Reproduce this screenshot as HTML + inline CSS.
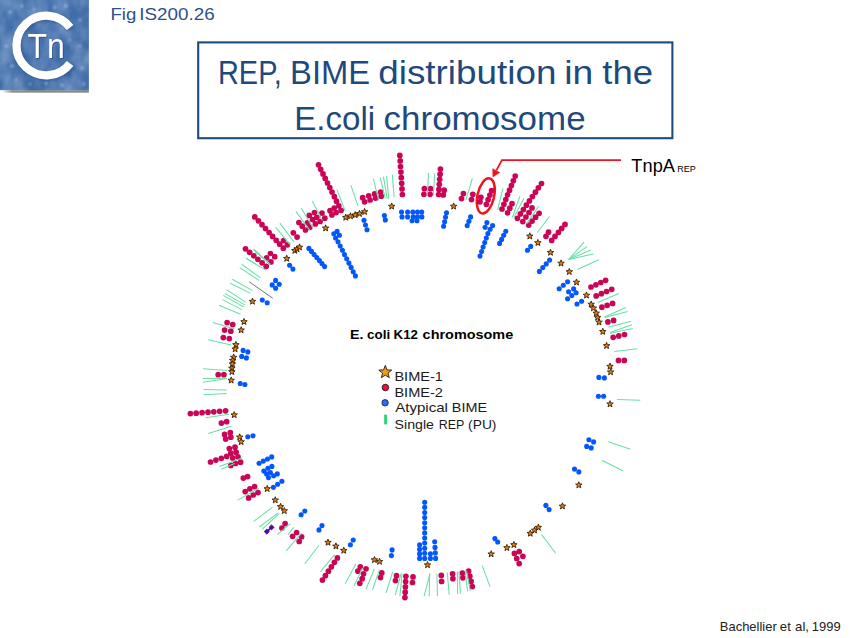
<!DOCTYPE html>
<html lang="en">
<head>
<meta charset="utf-8">
<title>Fig IS200.26 - REP, BIME distribution in the E.coli chromosome</title>
<style>
html,body{margin:0;padding:0;background:#fff;}
body{width:850px;height:638px;overflow:hidden;position:relative;}
svg{position:absolute;left:0;top:0;display:block;}
text{font-family:"Liberation Sans",sans-serif;}
</style>
</head>
<body>
<svg width="850" height="638" viewBox="0 0 850 638">
<defs>
  <linearGradient id="lg" x1="0" y1="0" x2="1" y2="1">
    <stop offset="0" stop-color="#4572ad"/>
    <stop offset="0.5" stop-color="#406ca8"/>
    <stop offset="1" stop-color="#3d69a6"/>
  </linearGradient>
  <filter id="clouds" x="0" y="0" width="100%" height="100%" color-interpolation-filters="sRGB">
    <feTurbulence type="fractalNoise" baseFrequency="0.055 0.04" numOctaves="3" seed="7" result="n"/>
    <feColorMatrix in="n" type="matrix" values="0 0 0 0 0.82  0 0 0 0 0.89  0 0 0 0 0.97  1.5 0 0 0 -0.52"/>
  </filter>
  <linearGradient id="sh" x1="0" y1="0" x2="1" y2="0"><stop offset="0" stop-color="#8c8c8c" stop-opacity="0"/><stop offset="0.12" stop-color="#8c8c8c"/><stop offset="1" stop-color="#888888"/></linearGradient>
  <filter id="blur3" x="-10%" y="-50%" width="120%" height="200%"><feGaussianBlur stdDeviation="0.35"/></filter>
  <filter id="ds" x="-20%" y="-20%" width="150%" height="150%"><feDropShadow dx="1" dy="1" stdDeviation="0.5" flood-color="#1f3f70" flood-opacity="0.55"/></filter>
  <filter id="blur1" x="-50%" y="-50%" width="200%" height="200%"><feGaussianBlur stdDeviation="1.1"/></filter>
  <filter id="blur2" x="-50%" y="-50%" width="200%" height="200%"><feGaussianBlur stdDeviation="0.8"/></filter>
</defs>
<rect x="0" y="0" width="850" height="638" fill="#ffffff"/>

<!-- logo -->
<g id="logo">
  <rect x="2" y="89" width="86.9" height="3.7" fill="url(#sh)" filter="url(#blur3)"/>
  <rect x="0" y="0" width="88.9" height="90.1" fill="url(#lg)"/>
  <rect x="0" y="0" width="88.9" height="90.1" fill="#fff" filter="url(#clouds)" opacity="0.5"/>
  <g fill="#cfe0f3" opacity="0.55" filter="url(#blur1)">
    <circle cx="10" cy="12" r="1.6"/><circle cx="22" cy="6" r="1.3"/><circle cx="34" cy="9" r="1.2"/>
    <circle cx="55" cy="7" r="1.5"/><circle cx="66" cy="6" r="1.4"/><circle cx="80" cy="20" r="1.4"/>
    <circle cx="6" cy="46" r="1.5"/><circle cx="12" cy="66" r="1.6"/><circle cx="16" cy="80" r="1.4"/>
    <circle cx="46" cy="83" r="1.5"/><circle cx="62" cy="85" r="1.3"/><circle cx="82" cy="68" r="1.5"/>
    <circle cx="80" cy="46" r="1.3"/><circle cx="84" cy="84" r="1.3"/><circle cx="30" cy="84" r="1.2"/>
    <circle cx="58" cy="24" r="1.1"/><circle cx="26" cy="24" r="1.2"/><circle cx="70" cy="40" r="1.1"/>
  </g>
  <path d="M70.10,27.57 A29.8,29.8 0 1 0 70.10,63.43" fill="none" stroke="#1f3f70" stroke-opacity="0.45" stroke-width="8.3" transform="translate(1.2,1.2)" filter="url(#blur2)"/>
  <path d="M70.10,27.57 A29.8,29.8 0 1 0 70.10,63.43" fill="none" stroke="#ffffff" stroke-width="8.3"/>
  <text x="27.6" y="58" font-size="35.5" fill="#ffffff" textLength="37.2" lengthAdjust="spacingAndGlyphs" filter="url(#ds)">Tn</text>
</g>

<!-- figure label -->

<!-- title box -->
<rect x="198.2" y="42.4" width="474.2" height="95.8" fill="#ffffff" stroke="#1f4a7e" stroke-width="2.1"/>

<!-- callout -->
<g id="callout" fill="none" stroke="#f0141e">
  <polyline points="621,160.1 501.9,160.1 496.4,170.4" stroke-width="1.8"/>
  <path d="M492.9,176.9 L492.7,168.7 L499.8,172.5 Z" fill="#f0141e" stroke-width="0.5"/>
  <ellipse cx="485.8" cy="195.9" rx="8.3" ry="17.9" stroke-width="2.5" transform="rotate(12.6 485.8 195.9)"/>
</g>

<!-- chromosome figure -->
<g id="blacks" stroke="#555" stroke-width="0.8" fill="none">
<line x1="249.1" y1="281.7" x2="272.8" y2="298.3"/>
</g>
<g id="crimson" fill="#cb0556">
<circle cx="318.5" cy="164.8" r="2.85"/>
<circle cx="320.7" cy="169.3" r="2.85"/>
<circle cx="323.0" cy="173.9" r="2.85"/>
<circle cx="325.2" cy="178.4" r="2.85"/>
<circle cx="327.5" cy="183.0" r="2.85"/>
<circle cx="329.8" cy="187.5" r="2.85"/>
<circle cx="332.0" cy="192.1" r="2.85"/>
<circle cx="334.3" cy="196.7" r="2.85"/>
<circle cx="336.5" cy="201.2" r="2.85"/>
<circle cx="338.8" cy="205.8" r="2.85"/>
<circle cx="341.1" cy="210.3" r="2.85"/>
<circle cx="334.2" cy="208.1" r="2.85"/>
<circle cx="336.1" cy="212.6" r="2.85"/>
<circle cx="330.0" cy="210.7" r="2.85"/>
<circle cx="331.9" cy="214.9" r="2.85"/>
<circle cx="298.9" cy="222.5" r="2.85"/>
<circle cx="302.2" cy="226.2" r="2.85"/>
<circle cx="305.5" cy="230.0" r="2.85"/>
<circle cx="307.4" cy="222.9" r="2.85"/>
<circle cx="309.8" cy="227.2" r="2.85"/>
<circle cx="309.3" cy="215.4" r="2.85"/>
<circle cx="312.6" cy="219.6" r="2.85"/>
<circle cx="315.4" cy="223.9" r="2.85"/>
<circle cx="314.5" cy="212.6" r="2.85"/>
<circle cx="316.8" cy="217.3" r="2.85"/>
<circle cx="320.1" cy="221.5" r="2.85"/>
<circle cx="322.0" cy="213.1" r="2.85"/>
<circle cx="324.8" cy="218.2" r="2.85"/>
<circle cx="293.3" cy="232.8" r="2.85"/>
<circle cx="297.1" cy="237.1" r="2.85"/>
<circle cx="254.8" cy="216.9" r="2.85"/>
<circle cx="258.4" cy="220.8" r="2.85"/>
<circle cx="262.0" cy="224.7" r="2.85"/>
<circle cx="265.5" cy="228.6" r="2.85"/>
<circle cx="269.1" cy="232.5" r="2.85"/>
<circle cx="272.6" cy="236.4" r="2.85"/>
<circle cx="276.2" cy="240.3" r="2.85"/>
<circle cx="279.7" cy="244.2" r="2.85"/>
<circle cx="283.3" cy="248.2" r="2.85"/>
<circle cx="283.6" cy="240.6" r="2.85"/>
<circle cx="287.4" cy="244.8" r="2.85"/>
<circle cx="362.7" cy="197.7" r="2.85"/>
<circle cx="368.7" cy="195.8" r="2.85"/>
<circle cx="374.6" cy="193.9" r="2.85"/>
<circle cx="380.6" cy="192.1" r="2.85"/>
<circle cx="364.6" cy="201.8" r="2.85"/>
<circle cx="370.1" cy="200.0" r="2.85"/>
<circle cx="375.6" cy="198.1" r="2.85"/>
<circle cx="381.2" cy="196.2" r="2.85"/>
<circle cx="399.8" cy="155.4" r="2.85"/>
<circle cx="400.2" cy="160.9" r="2.85"/>
<circle cx="400.5" cy="166.5" r="2.85"/>
<circle cx="400.9" cy="172.1" r="2.85"/>
<circle cx="401.3" cy="177.7" r="2.85"/>
<circle cx="401.7" cy="183.3" r="2.85"/>
<circle cx="402.0" cy="188.9" r="2.85"/>
<circle cx="402.4" cy="194.5" r="2.85"/>
<circle cx="440.4" cy="169.1" r="2.85"/>
<circle cx="440.1" cy="174.2" r="2.85"/>
<circle cx="439.7" cy="179.3" r="2.85"/>
<circle cx="439.3" cy="184.3" r="2.85"/>
<circle cx="438.9" cy="189.4" r="2.85"/>
<circle cx="438.6" cy="194.5" r="2.85"/>
<circle cx="424.4" cy="188.7" r="2.85"/>
<circle cx="423.9" cy="194.3" r="2.85"/>
<circle cx="430.5" cy="188.7" r="2.85"/>
<circle cx="430.1" cy="194.3" r="2.85"/>
<circle cx="444.2" cy="190.2" r="2.85"/>
<circle cx="443.3" cy="194.9" r="2.85"/>
<circle cx="463.4" cy="193.6" r="2.85"/>
<circle cx="461.5" cy="198.6" r="2.85"/>
<circle cx="472.8" cy="194.3" r="2.85"/>
<circle cx="471.5" cy="199.6" r="2.85"/>
<circle cx="491.6" cy="190.6" r="2.85"/>
<circle cx="489.9" cy="195.1" r="2.85"/>
<circle cx="488.1" cy="199.7" r="2.85"/>
<circle cx="486.4" cy="204.3" r="2.85"/>
<circle cx="480.9" cy="197.3" r="2.85"/>
<circle cx="480.0" cy="201.8" r="2.85"/>
<circle cx="515.2" cy="176.1" r="2.85"/>
<circle cx="513.3" cy="180.8" r="2.85"/>
<circle cx="511.4" cy="185.5" r="2.85"/>
<circle cx="509.5" cy="190.2" r="2.85"/>
<circle cx="507.6" cy="194.9" r="2.85"/>
<circle cx="505.8" cy="199.6" r="2.85"/>
<circle cx="503.9" cy="204.3" r="2.85"/>
<circle cx="502.0" cy="209.0" r="2.85"/>
<circle cx="512.0" cy="203.7" r="2.85"/>
<circle cx="509.8" cy="208.2" r="2.85"/>
<circle cx="507.6" cy="212.8" r="2.85"/>
<circle cx="541.5" cy="183.5" r="2.85"/>
<circle cx="538.4" cy="187.8" r="2.85"/>
<circle cx="535.4" cy="192.2" r="2.85"/>
<circle cx="532.4" cy="196.5" r="2.85"/>
<circle cx="529.4" cy="200.9" r="2.85"/>
<circle cx="526.4" cy="205.2" r="2.85"/>
<circle cx="523.4" cy="209.6" r="2.85"/>
<circle cx="520.4" cy="213.9" r="2.85"/>
<circle cx="517.4" cy="218.3" r="2.85"/>
<circle cx="532.0" cy="207.9" r="2.85"/>
<circle cx="529.0" cy="212.5" r="2.85"/>
<circle cx="525.9" cy="217.0" r="2.85"/>
<circle cx="522.8" cy="221.6" r="2.85"/>
<circle cx="539.1" cy="213.3" r="2.85"/>
<circle cx="535.6" cy="217.2" r="2.85"/>
<circle cx="532.1" cy="221.1" r="2.85"/>
<circle cx="528.7" cy="225.1" r="2.85"/>
<circle cx="565.0" cy="224.4" r="2.85"/>
<circle cx="561.7" cy="228.4" r="2.85"/>
<circle cx="558.4" cy="232.4" r="2.85"/>
<circle cx="555.0" cy="236.4" r="2.85"/>
<circle cx="551.7" cy="240.4" r="2.85"/>
<circle cx="548.5" cy="232.2" r="2.85"/>
<circle cx="546.0" cy="236.3" r="2.85"/>
<circle cx="245.5" cy="248.8" r="2.85"/>
<circle cx="249.6" cy="252.3" r="2.85"/>
<circle cx="253.8" cy="255.8" r="2.85"/>
<circle cx="257.9" cy="259.3" r="2.85"/>
<circle cx="262.1" cy="262.8" r="2.85"/>
<circle cx="266.2" cy="266.3" r="2.85"/>
<circle cx="270.4" cy="253.5" r="2.85"/>
<circle cx="274.7" cy="256.7" r="2.85"/>
<circle cx="266.6" cy="257.8" r="2.85"/>
<circle cx="270.9" cy="261.9" r="2.85"/>
<circle cx="227.1" cy="322.6" r="2.85"/>
<circle cx="232.7" cy="324.6" r="2.85"/>
<circle cx="224.6" cy="330.1" r="2.85"/>
<circle cx="230.8" cy="331.2" r="2.85"/>
<circle cx="223.3" cy="337.6" r="2.85"/>
<circle cx="229.3" cy="338.6" r="2.85"/>
<circle cx="218.2" cy="374.7" r="2.85"/>
<circle cx="223.9" cy="374.7" r="2.85"/>
<circle cx="190.4" cy="413.6" r="2.85"/>
<circle cx="196.2" cy="413.2" r="2.85"/>
<circle cx="202.1" cy="412.7" r="2.85"/>
<circle cx="208.0" cy="412.2" r="2.85"/>
<circle cx="213.8" cy="411.8" r="2.85"/>
<circle cx="219.7" cy="411.3" r="2.85"/>
<circle cx="225.6" cy="410.8" r="2.85"/>
<circle cx="221.4" cy="423.1" r="2.85"/>
<circle cx="226.7" cy="421.7" r="2.85"/>
<circle cx="224.6" cy="434.4" r="2.85"/>
<circle cx="230.3" cy="432.5" r="2.85"/>
<circle cx="225.7" cy="439.1" r="2.85"/>
<circle cx="230.8" cy="437.2" r="2.85"/>
<circle cx="229.3" cy="448.5" r="2.85"/>
<circle cx="235.0" cy="447.2" r="2.85"/>
<circle cx="230.8" cy="453.2" r="2.85"/>
<circle cx="236.1" cy="452.2" r="2.85"/>
<circle cx="232.7" cy="457.9" r="2.85"/>
<circle cx="238.0" cy="456.9" r="2.85"/>
<circle cx="210.5" cy="462.0" r="2.85"/>
<circle cx="215.9" cy="460.1" r="2.85"/>
<circle cx="221.3" cy="458.3" r="2.85"/>
<circle cx="226.7" cy="456.4" r="2.85"/>
<circle cx="230.8" cy="465.4" r="2.85"/>
<circle cx="235.5" cy="463.5" r="2.85"/>
<circle cx="240.6" cy="462.2" r="2.85"/>
<circle cx="243.3" cy="478.1" r="2.85"/>
<circle cx="247.6" cy="476.6" r="2.85"/>
<circle cx="245.2" cy="491.6" r="2.85"/>
<circle cx="249.9" cy="488.8" r="2.85"/>
<circle cx="254.6" cy="486.6" r="2.85"/>
<circle cx="248.6" cy="497.9" r="2.85"/>
<circle cx="253.3" cy="495.0" r="2.85"/>
<circle cx="258.0" cy="492.6" r="2.85"/>
<circle cx="281.9" cy="528.0" r="2.85"/>
<circle cx="285.1" cy="523.6" r="2.85"/>
<circle cx="292.6" cy="536.3" r="2.85"/>
<circle cx="296.6" cy="532.5" r="2.85"/>
<circle cx="299.2" cy="541.5" r="2.85"/>
<circle cx="301.6" cy="536.8" r="2.85"/>
<circle cx="337.4" cy="557.9" r="2.85"/>
<circle cx="334.4" cy="562.3" r="2.85"/>
<circle cx="331.4" cy="566.8" r="2.85"/>
<circle cx="328.4" cy="571.2" r="2.85"/>
<circle cx="325.4" cy="575.7" r="2.85"/>
<circle cx="322.4" cy="580.1" r="2.85"/>
<circle cx="360.3" cy="566.9" r="2.85"/>
<circle cx="366.0" cy="568.8" r="2.85"/>
<circle cx="357.9" cy="571.2" r="2.85"/>
<circle cx="363.5" cy="573.8" r="2.85"/>
<circle cx="362.2" cy="578.7" r="2.85"/>
<circle cx="359.8" cy="583.3" r="2.85"/>
<circle cx="381.8" cy="572.9" r="2.85"/>
<circle cx="380.5" cy="577.6" r="2.85"/>
<circle cx="396.5" cy="575.7" r="2.85"/>
<circle cx="395.5" cy="580.6" r="2.85"/>
<circle cx="405.9" cy="576.3" r="2.85"/>
<circle cx="405.6" cy="581.6" r="2.85"/>
<circle cx="405.4" cy="586.9" r="2.85"/>
<circle cx="405.2" cy="592.2" r="2.85"/>
<circle cx="404.9" cy="597.6" r="2.85"/>
<circle cx="413.0" cy="576.9" r="2.85"/>
<circle cx="412.5" cy="582.5" r="2.85"/>
<circle cx="441.3" cy="575.4" r="2.85"/>
<circle cx="441.6" cy="581.4" r="2.85"/>
<circle cx="452.6" cy="573.8" r="2.85"/>
<circle cx="452.9" cy="578.7" r="2.85"/>
<circle cx="462.4" cy="573.1" r="2.85"/>
<circle cx="462.9" cy="577.8" r="2.85"/>
<circle cx="468.6" cy="571.0" r="2.85"/>
<circle cx="469.8" cy="576.2" r="2.85"/>
<circle cx="471.1" cy="581.4" r="2.85"/>
<circle cx="472.3" cy="586.6" r="2.85"/>
<circle cx="514.4" cy="553.4" r="2.85"/>
<circle cx="519.2" cy="551.6" r="2.85"/>
<circle cx="522.9" cy="556.3" r="2.85"/>
<circle cx="516.7" cy="558.5" r="2.85"/>
<circle cx="519.2" cy="563.6" r="2.85"/>
<circle cx="591.0" cy="287.0" r="2.85"/>
<circle cx="595.9" cy="284.8" r="2.85"/>
<circle cx="600.8" cy="282.5" r="2.85"/>
<circle cx="605.6" cy="280.3" r="2.85"/>
<circle cx="596.2" cy="295.9" r="2.85"/>
<circle cx="601.4" cy="293.7" r="2.85"/>
<circle cx="606.5" cy="291.5" r="2.85"/>
<circle cx="611.7" cy="289.3" r="2.85"/>
<circle cx="601.9" cy="307.2" r="2.85"/>
<circle cx="607.2" cy="305.3" r="2.85"/>
<circle cx="612.6" cy="303.4" r="2.85"/>
<circle cx="607.9" cy="321.9" r="2.85"/>
<circle cx="613.6" cy="320.4" r="2.85"/>
<circle cx="613.2" cy="337.3" r="2.85"/>
<circle cx="618.8" cy="335.9" r="2.85"/>
<circle cx="624.5" cy="334.5" r="2.85"/>
<circle cx="618.5" cy="360.4" r="2.85"/>
<circle cx="624.3" cy="360.4" r="2.85"/>
</g>
<g id="blue" fill="#0357fb">
<circle cx="364.0" cy="220.3" r="2.55"/>
<circle cx="365.5" cy="225.0" r="2.55"/>
<circle cx="367.0" cy="229.7" r="2.55"/>
<circle cx="384.4" cy="215.6" r="2.55"/>
<circle cx="385.3" cy="219.9" r="2.55"/>
<circle cx="337.1" cy="231.4" r="2.55"/>
<circle cx="333.8" cy="233.8" r="2.55"/>
<circle cx="339.4" cy="235.2" r="2.55"/>
<circle cx="335.6" cy="238.0" r="2.55"/>
<circle cx="338.0" cy="241.8" r="2.55"/>
<circle cx="340.2" cy="246.0" r="2.55"/>
<circle cx="342.4" cy="250.3" r="2.55"/>
<circle cx="344.5" cy="254.6" r="2.55"/>
<circle cx="346.7" cy="258.8" r="2.55"/>
<circle cx="348.9" cy="263.1" r="2.55"/>
<circle cx="351.1" cy="267.4" r="2.55"/>
<circle cx="353.2" cy="271.7" r="2.55"/>
<circle cx="355.4" cy="275.9" r="2.55"/>
<circle cx="401.5" cy="212.0" r="2.55"/>
<circle cx="407.6" cy="212.0" r="2.55"/>
<circle cx="412.8" cy="212.0" r="2.55"/>
<circle cx="417.5" cy="212.0" r="2.55"/>
<circle cx="421.7" cy="212.0" r="2.55"/>
<circle cx="402.0" cy="216.9" r="2.55"/>
<circle cx="407.6" cy="216.9" r="2.55"/>
<circle cx="413.2" cy="216.9" r="2.55"/>
<circle cx="417.5" cy="216.9" r="2.55"/>
<circle cx="421.9" cy="216.9" r="2.55"/>
<circle cx="412.1" cy="220.7" r="2.55"/>
<circle cx="417.0" cy="220.7" r="2.55"/>
<circle cx="446.5" cy="212.8" r="2.55"/>
<circle cx="445.5" cy="217.3" r="2.55"/>
<circle cx="444.6" cy="221.8" r="2.55"/>
<circle cx="443.6" cy="226.3" r="2.55"/>
<circle cx="470.6" cy="216.9" r="2.55"/>
<circle cx="468.9" cy="221.2" r="2.55"/>
<circle cx="467.2" cy="225.6" r="2.55"/>
<circle cx="486.9" cy="222.6" r="2.55"/>
<circle cx="492.6" cy="225.6" r="2.55"/>
<circle cx="485.1" cy="227.3" r="2.55"/>
<circle cx="490.1" cy="229.3" r="2.55"/>
<circle cx="487.9" cy="233.5" r="2.55"/>
<circle cx="486.3" cy="238.0" r="2.55"/>
<circle cx="484.7" cy="242.5" r="2.55"/>
<circle cx="483.1" cy="247.0" r="2.55"/>
<circle cx="481.6" cy="251.5" r="2.55"/>
<circle cx="480.0" cy="256.1" r="2.55"/>
<circle cx="505.8" cy="231.2" r="2.55"/>
<circle cx="503.7" cy="235.3" r="2.55"/>
<circle cx="501.6" cy="239.4" r="2.55"/>
<circle cx="499.6" cy="243.4" r="2.55"/>
<circle cx="289.6" cy="265.3" r="2.55"/>
<circle cx="292.9" cy="269.1" r="2.55"/>
<circle cx="275.6" cy="280.4" r="2.55"/>
<circle cx="279.2" cy="284.2" r="2.55"/>
<circle cx="272.2" cy="284.9" r="2.55"/>
<circle cx="275.6" cy="288.3" r="2.55"/>
<circle cx="262.3" cy="300.0" r="2.55"/>
<circle cx="267.2" cy="302.8" r="2.55"/>
<circle cx="243.1" cy="350.4" r="2.55"/>
<circle cx="247.8" cy="351.9" r="2.55"/>
<circle cx="241.7" cy="356.4" r="2.55"/>
<circle cx="246.4" cy="357.9" r="2.55"/>
<circle cx="308.9" cy="248.4" r="2.55"/>
<circle cx="311.5" cy="251.4" r="2.55"/>
<circle cx="314.1" cy="254.5" r="2.55"/>
<circle cx="316.8" cy="257.5" r="2.55"/>
<circle cx="319.4" cy="260.6" r="2.55"/>
<circle cx="322.0" cy="263.6" r="2.55"/>
<circle cx="324.6" cy="266.6" r="2.55"/>
<circle cx="240.2" cy="383.5" r="2.55"/>
<circle cx="244.9" cy="384.5" r="2.55"/>
<circle cx="247.8" cy="436.8" r="2.55"/>
<circle cx="253.0" cy="435.7" r="2.55"/>
<circle cx="259.1" cy="463.2" r="2.55"/>
<circle cx="263.3" cy="461.1" r="2.55"/>
<circle cx="267.5" cy="459.0" r="2.55"/>
<circle cx="271.7" cy="456.9" r="2.55"/>
<circle cx="263.8" cy="471.1" r="2.55"/>
<circle cx="267.9" cy="468.2" r="2.55"/>
<circle cx="271.9" cy="466.4" r="2.55"/>
<circle cx="266.6" cy="473.9" r="2.55"/>
<circle cx="270.4" cy="472.6" r="2.55"/>
<circle cx="273.6" cy="475.8" r="2.55"/>
<circle cx="277.3" cy="473.9" r="2.55"/>
<circle cx="268.5" cy="477.6" r="2.55"/>
<circle cx="281.9" cy="481.3" r="2.55"/>
<circle cx="277.6" cy="484.3" r="2.55"/>
<circle cx="273.4" cy="487.3" r="2.55"/>
<circle cx="304.8" cy="511.0" r="2.55"/>
<circle cx="301.1" cy="514.8" r="2.55"/>
<circle cx="322.0" cy="525.5" r="2.55"/>
<circle cx="319.0" cy="529.9" r="2.55"/>
<circle cx="424.7" cy="502.3" r="2.55"/>
<circle cx="424.7" cy="507.4" r="2.55"/>
<circle cx="424.7" cy="512.5" r="2.55"/>
<circle cx="424.7" cy="517.6" r="2.55"/>
<circle cx="424.7" cy="522.7" r="2.55"/>
<circle cx="424.7" cy="527.8" r="2.55"/>
<circle cx="424.7" cy="532.9" r="2.55"/>
<circle cx="424.7" cy="538.0" r="2.55"/>
<circle cx="424.7" cy="543.1" r="2.55"/>
<circle cx="424.7" cy="548.2" r="2.55"/>
<circle cx="424.7" cy="553.3" r="2.55"/>
<circle cx="424.7" cy="558.4" r="2.55"/>
<circle cx="419.6" cy="544.9" r="2.55"/>
<circle cx="419.6" cy="549.4" r="2.55"/>
<circle cx="419.6" cy="553.9" r="2.55"/>
<circle cx="419.6" cy="558.4" r="2.55"/>
<circle cx="430.4" cy="553.7" r="2.55"/>
<circle cx="430.4" cy="558.4" r="2.55"/>
<circle cx="434.7" cy="541.8" r="2.55"/>
<circle cx="435.0" cy="547.4" r="2.55"/>
<circle cx="435.3" cy="552.9" r="2.55"/>
<circle cx="435.6" cy="558.4" r="2.55"/>
<circle cx="353.2" cy="540.0" r="2.55"/>
<circle cx="350.4" cy="544.7" r="2.55"/>
<circle cx="392.1" cy="549.9" r="2.55"/>
<circle cx="391.4" cy="555.6" r="2.55"/>
<circle cx="494.9" cy="538.6" r="2.55"/>
<circle cx="497.7" cy="542.0" r="2.55"/>
<circle cx="574.5" cy="469.1" r="2.55"/>
<circle cx="578.8" cy="471.9" r="2.55"/>
<circle cx="545.9" cy="505.4" r="2.55"/>
<circle cx="549.1" cy="509.6" r="2.55"/>
<circle cx="530.7" cy="246.4" r="2.55"/>
<circle cx="527.5" cy="250.3" r="2.55"/>
<circle cx="549.6" cy="260.1" r="2.55"/>
<circle cx="546.2" cy="263.9" r="2.55"/>
<circle cx="542.8" cy="267.6" r="2.55"/>
<circle cx="539.4" cy="271.4" r="2.55"/>
<circle cx="567.6" cy="281.8" r="2.55"/>
<circle cx="563.3" cy="285.2" r="2.55"/>
<circle cx="559.2" cy="288.7" r="2.55"/>
<circle cx="573.6" cy="288.9" r="2.55"/>
<circle cx="568.6" cy="291.7" r="2.55"/>
<circle cx="576.1" cy="292.7" r="2.55"/>
<circle cx="571.8" cy="295.5" r="2.55"/>
<circle cx="567.6" cy="298.7" r="2.55"/>
<circle cx="581.6" cy="301.2" r="2.55"/>
<circle cx="577.0" cy="304.0" r="2.55"/>
<circle cx="598.9" cy="377.4" r="2.55"/>
<circle cx="604.4" cy="377.9" r="2.55"/>
<circle cx="598.4" cy="396.2" r="2.55"/>
<circle cx="603.6" cy="396.2" r="2.55"/>
<circle cx="588.9" cy="439.8" r="2.55"/>
<circle cx="593.6" cy="441.9" r="2.55"/>
<circle cx="586.7" cy="446.4" r="2.55"/>
<circle cx="591.2" cy="447.9" r="2.55"/>
</g>
<g id="greens" stroke="#66e0a6" stroke-width="1.05" stroke-linecap="butt" fill="none">
<line x1="336.9" y1="189.6" x2="345.2" y2="210.9"/>
<line x1="350.8" y1="185.1" x2="358.0" y2="205.8"/>
<line x1="312.3" y1="201.1" x2="322.2" y2="220.3"/>
<line x1="301.2" y1="208.1" x2="312.8" y2="227.8"/>
<line x1="295.9" y1="211.4" x2="310.0" y2="230.6"/>
<line x1="279.9" y1="223.1" x2="294.0" y2="241.9"/>
<line x1="275.7" y1="227.3" x2="290.2" y2="244.8"/>
<line x1="253.5" y1="249.5" x2="270.5" y2="264.5"/>
<line x1="246.0" y1="257.9" x2="256.4" y2="264.5"/>
<line x1="373.4" y1="178.9" x2="378.7" y2="200.5"/>
<line x1="380.2" y1="177.4" x2="385.3" y2="198.6"/>
<line x1="383.4" y1="176.6" x2="387.2" y2="198.6"/>
<line x1="386.6" y1="176.1" x2="388.7" y2="198.6"/>
<line x1="392.3" y1="174.6" x2="394.1" y2="197.3"/>
<line x1="428.6" y1="172.9" x2="427.3" y2="195.8"/>
<line x1="434.8" y1="173.2" x2="433.3" y2="195.8"/>
<line x1="472.3" y1="178.5" x2="465.9" y2="200.2"/>
<line x1="502.9" y1="188.3" x2="497.7" y2="209.9"/>
<line x1="519.9" y1="196.2" x2="512.4" y2="217.5"/>
<line x1="524.0" y1="198.3" x2="513.9" y2="217.5"/>
<line x1="538.7" y1="206.2" x2="526.5" y2="224.1"/>
<line x1="549.6" y1="216.2" x2="537.4" y2="232.5"/>
<line x1="254.0" y1="249.1" x2="269.8" y2="264.4"/>
<line x1="255.3" y1="251.6" x2="268.5" y2="262.9"/>
<line x1="246.4" y1="258.6" x2="266.0" y2="270.4"/>
<line x1="241.7" y1="264.2" x2="260.6" y2="277.9"/>
<line x1="239.7" y1="267.6" x2="259.1" y2="280.4"/>
<line x1="232.3" y1="279.3" x2="252.5" y2="290.6"/>
<line x1="230.3" y1="283.2" x2="250.6" y2="293.4"/>
<line x1="226.5" y1="289.6" x2="245.9" y2="302.4"/>
<line x1="224.8" y1="293.4" x2="244.9" y2="304.9"/>
<line x1="223.3" y1="295.4" x2="244.0" y2="307.1"/>
<line x1="222.4" y1="299.6" x2="242.1" y2="309.9"/>
<line x1="219.0" y1="305.2" x2="240.6" y2="314.3"/>
<line x1="212.9" y1="322.6" x2="234.6" y2="329.1"/>
<line x1="208.2" y1="339.7" x2="231.2" y2="345.1"/>
<line x1="203.0" y1="368.8" x2="227.1" y2="370.4"/>
<line x1="203.0" y1="378.4" x2="227.1" y2="378.3"/>
<line x1="203.0" y1="382.2" x2="227.1" y2="378.4"/>
<line x1="203.5" y1="389.6" x2="226.7" y2="390.1"/>
<line x1="203.5" y1="394.8" x2="226.7" y2="393.5"/>
<line x1="205.4" y1="417.8" x2="229.3" y2="414.2"/>
<line x1="208.2" y1="433.4" x2="231.2" y2="426.3"/>
<line x1="219.5" y1="466.4" x2="242.1" y2="457.9"/>
<line x1="221.4" y1="469.2" x2="234.6" y2="463.5"/>
<line x1="237.6" y1="500.1" x2="258.9" y2="488.3"/>
<line x1="253.6" y1="521.4" x2="272.5" y2="507.3"/>
<line x1="259.3" y1="527.0" x2="278.1" y2="512.9"/>
<line x1="262.1" y1="529.3" x2="279.1" y2="513.7"/>
<line x1="277.2" y1="534.6" x2="290.4" y2="523.6"/>
<line x1="288.1" y1="534.6" x2="293.6" y2="527.4"/>
<line x1="286.2" y1="550.9" x2="301.6" y2="533.1"/>
<line x1="304.8" y1="563.7" x2="319.0" y2="545.3"/>
<line x1="320.5" y1="571.6" x2="334.6" y2="554.7"/>
<line x1="356.0" y1="563.7" x2="345.1" y2="583.8"/>
<line x1="362.6" y1="567.8" x2="354.1" y2="585.7"/>
<line x1="374.4" y1="568.8" x2="366.0" y2="589.1"/>
<line x1="379.5" y1="569.7" x2="372.4" y2="590.0"/>
<line x1="392.7" y1="572.0" x2="386.1" y2="592.9"/>
<line x1="401.2" y1="573.5" x2="395.2" y2="595.1"/>
<line x1="402.1" y1="573.5" x2="399.9" y2="596.1"/>
<line x1="430.0" y1="573.5" x2="424.1" y2="596.1"/>
<line x1="429.6" y1="573.5" x2="429.2" y2="596.6"/>
<line x1="436.9" y1="573.5" x2="437.5" y2="596.1"/>
<line x1="447.3" y1="572.5" x2="449.2" y2="594.7"/>
<line x1="457.6" y1="571.6" x2="457.6" y2="594.2"/>
<line x1="459.0" y1="571.6" x2="460.5" y2="593.8"/>
<line x1="465.2" y1="571.6" x2="467.6" y2="591.4"/>
<line x1="466.5" y1="570.6" x2="470.3" y2="590.8"/>
<line x1="482.1" y1="565.4" x2="490.0" y2="586.6"/>
<line x1="602.0" y1="460.3" x2="623.1" y2="471.0"/>
<line x1="541.6" y1="534.6" x2="555.7" y2="553.3"/>
<line x1="568.6" y1="259.6" x2="584.0" y2="242.2"/>
<line x1="568.6" y1="259.6" x2="587.2" y2="246.4"/>
<line x1="568.6" y1="259.6" x2="590.6" y2="250.1"/>
<line x1="568.6" y1="259.6" x2="593.4" y2="253.9"/>
<line x1="577.4" y1="269.5" x2="598.7" y2="259.7"/>
<line x1="597.7" y1="302.5" x2="618.8" y2="293.4"/>
<line x1="604.1" y1="317.2" x2="625.8" y2="307.6"/>
<line x1="604.7" y1="317.5" x2="627.7" y2="311.5"/>
<line x1="608.5" y1="327.3" x2="631.1" y2="321.3"/>
<line x1="610.0" y1="332.6" x2="632.0" y2="324.7"/>
<line x1="610.4" y1="333.2" x2="632.9" y2="328.4"/>
<line x1="614.4" y1="351.4" x2="637.5" y2="348.7"/>
<line x1="617.2" y1="399.6" x2="640.3" y2="400.3"/>
<line x1="608.3" y1="441.7" x2="630.4" y2="449.3"/>
</g>
<g id="purple" fill="#4d0ca6" stroke="#4d0ca6" stroke-linejoin="round">
<path stroke-width="0.8" d="M266.8,529.0l2.6,2.6l-2.6,2.6l-2.6,-2.6z"/>
<path stroke-width="0.8" d="M271.5,524.8l2.6,2.6l-2.6,2.6l-2.6,-2.6z"/>
<line stroke-width="1.9" x1="266.8" y1="531.6" x2="271.5" y2="527.4"/>
</g>
<g id="stars" fill="#ee7d0a" stroke="#2a1a05" stroke-width="0.85" stroke-linejoin="miter">
<path d="M325.62,224.80L326.48,227.03L328.86,227.15L327.00,228.65L327.62,230.95L325.62,229.65L323.63,230.95L324.24,228.65L322.39,227.15L324.77,227.03Z"/>
<path d="M345.76,214.07L346.62,216.30L349.00,216.42L347.14,217.92L347.76,220.22L345.76,218.92L343.77,220.22L344.39,217.92L342.53,216.42L344.91,216.30Z"/>
<path d="M350.47,212.75L351.32,214.98L353.70,215.10L351.85,216.60L352.47,218.90L350.47,217.60L348.47,218.90L349.09,216.60L347.24,215.10L349.62,214.98Z"/>
<path d="M355.18,211.62L356.03,213.85L358.41,213.97L356.56,215.47L357.17,217.77L355.18,216.47L353.18,217.77L353.80,215.47L351.94,213.97L354.32,213.85Z"/>
<path d="M359.51,210.31L360.36,212.53L362.74,212.66L360.88,214.15L361.50,216.46L359.51,215.16L357.51,216.46L358.13,214.15L356.27,212.66L358.65,212.53Z"/>
<path d="M364.59,208.42L365.44,210.65L367.82,210.77L365.97,212.27L366.59,214.57L364.59,213.27L362.59,214.57L363.21,212.27L361.35,210.77L363.74,210.65Z"/>
<path d="M391.69,202.96L392.55,205.19L394.93,205.31L393.07,206.81L393.69,209.12L391.69,207.81L389.70,209.12L390.32,206.81L388.46,205.31L390.84,205.19Z"/>
<path d="M453.62,202.96L454.48,205.19L456.86,205.31L455.00,206.81L455.62,209.12L453.62,207.81L451.63,209.12L452.24,206.81L450.39,205.31L452.77,205.19Z"/>
<path d="M286.73,255.15L287.58,257.38L289.96,257.50L288.11,259.00L288.73,261.30L286.73,260.00L284.73,261.30L285.35,259.00L283.50,257.50L285.88,257.38Z"/>
<path d="M294.82,247.25L295.68,249.47L298.06,249.60L296.20,251.10L296.82,253.40L294.82,252.10L292.83,253.40L293.44,251.10L291.59,249.60L293.97,249.47Z"/>
<path d="M297.08,245.74L297.93,247.97L300.32,248.09L298.46,249.59L299.08,251.89L297.08,250.59L295.08,251.89L295.70,249.59L293.85,248.09L296.23,247.97Z"/>
<path d="M299.53,243.86L300.38,246.09L302.76,246.21L300.91,247.71L301.53,250.01L299.53,248.71L297.53,250.01L298.15,247.71L296.30,246.21L298.68,246.09Z"/>
<path d="M252.47,298.07L253.32,300.30L255.70,300.42L253.85,301.92L254.47,304.22L252.47,302.92L250.47,304.22L251.09,301.92L249.24,300.42L251.62,300.30Z"/>
<path d="M244.00,318.40L244.85,320.63L247.23,320.75L245.38,322.25L246.00,324.55L244.00,323.25L242.00,324.55L242.62,322.25L240.77,320.75L243.15,320.63Z"/>
<path d="M241.18,326.68L242.03,328.91L244.41,329.03L242.56,330.53L243.17,332.83L241.18,331.53L239.18,332.83L239.80,330.53L237.94,329.03L240.32,328.91Z"/>
<path d="M235.91,341.36L236.76,343.59L239.14,343.71L237.28,345.21L237.90,347.52L235.91,346.21L233.91,347.52L234.53,345.21L232.67,343.71L235.05,343.59Z"/>
<path d="M235.15,345.69L236.01,347.92L238.39,348.04L236.53,349.54L237.15,351.84L235.15,350.54L233.15,351.84L233.77,349.54L231.92,348.04L234.30,347.92Z"/>
<path d="M233.67,353.95L234.52,356.18L236.90,356.30L235.05,357.80L235.67,360.10L233.67,358.80L231.67,360.10L232.29,357.80L230.43,356.30L232.81,356.18Z"/>
<path d="M232.65,357.09L233.50,359.32L235.88,359.44L234.03,360.94L234.65,363.24L232.65,361.94L230.65,363.24L231.27,360.94L229.41,359.44L231.79,359.32Z"/>
<path d="M232.41,360.62L233.26,362.85L235.65,362.97L233.79,364.47L234.41,366.77L232.41,365.47L230.41,366.77L231.03,364.47L229.18,362.97L231.56,362.85Z"/>
<path d="M231.86,364.93L232.72,367.16L235.10,367.28L233.24,368.78L233.86,371.08L231.86,369.78L229.86,371.08L230.48,368.78L228.63,367.28L231.01,367.16Z"/>
<path d="M231.86,368.46L232.72,370.69L235.10,370.81L233.24,372.31L233.86,374.61L231.86,373.31L229.86,374.61L230.48,372.31L228.63,370.81L231.01,370.69Z"/>
<path d="M231.20,376.93L232.05,379.16L234.43,379.28L232.58,380.78L233.20,383.08L231.20,381.78L229.20,383.08L229.82,380.78L227.97,379.28L230.35,379.16Z"/>
<path d="M234.21,411.56L235.06,413.79L237.45,413.91L235.59,415.41L236.21,417.72L234.21,416.41L232.21,417.72L232.83,415.41L230.98,413.91L233.36,413.79Z"/>
<path d="M239.67,433.78L240.52,436.00L242.90,436.13L241.05,437.62L241.67,439.93L239.67,438.63L237.67,439.93L238.29,437.62L236.44,436.13L238.82,436.00Z"/>
<path d="M241.18,438.48L242.03,440.71L244.41,440.83L242.56,442.33L243.17,444.63L241.18,443.33L239.18,444.63L239.80,442.33L237.94,440.83L240.32,440.71Z"/>
<path d="M267.20,485.42L268.05,487.65L270.43,487.77L268.58,489.27L269.20,491.57L267.20,490.27L265.20,491.57L265.82,489.27L263.97,487.77L266.35,487.65Z"/>
<path d="M275.29,496.72L276.15,498.94L278.53,499.07L276.67,500.57L277.29,502.87L275.29,501.57L273.30,502.87L273.92,500.57L272.06,499.07L274.44,498.94Z"/>
<path d="M280.56,503.31L281.42,505.53L283.80,505.66L281.94,507.15L282.56,509.46L280.56,508.16L278.57,509.46L279.19,507.15L277.33,505.66L279.71,505.53Z"/>
<path d="M284.33,507.45L285.18,509.67L287.56,509.80L285.71,511.30L286.33,513.60L284.33,512.30L282.33,513.60L282.95,511.30L281.10,509.80L283.48,509.67Z"/>
<path d="M328.00,539.07L328.85,541.30L331.23,541.42L329.38,542.92L330.00,545.22L328.00,543.92L326.00,545.22L326.62,542.92L324.77,541.42L327.15,541.30Z"/>
<path d="M335.91,542.84L336.76,545.06L339.14,545.18L337.28,546.68L337.90,548.99L335.91,547.69L333.91,548.99L334.53,546.68L332.67,545.18L335.05,545.06Z"/>
<path d="M343.76,547.11L344.62,549.33L347.00,549.46L345.14,550.95L345.76,553.26L343.76,551.96L341.77,553.26L342.39,550.95L340.53,549.46L342.91,549.33Z"/>
<path d="M374.45,556.52L375.30,558.74L377.68,558.87L375.83,560.37L376.45,562.67L374.45,561.37L372.45,562.67L373.07,560.37L371.21,558.87L373.59,558.74Z"/>
<path d="M379.53,558.21L380.38,560.44L382.76,560.56L380.91,562.06L381.53,564.36L379.53,563.06L377.53,564.36L378.15,562.06L376.30,560.56L378.68,560.44Z"/>
<path d="M427.53,561.60L428.38,563.83L430.76,563.95L428.91,565.45L429.53,567.75L427.53,566.45L425.53,567.75L426.15,565.45L424.30,563.95L426.68,563.83Z"/>
<path d="M491.15,550.68L492.01,552.91L494.39,553.03L492.53,554.53L493.15,556.83L491.15,555.53L489.15,556.83L489.77,554.53L487.92,553.03L490.30,552.91Z"/>
<path d="M578.82,481.72L579.68,483.94L582.06,484.07L580.20,485.57L580.82,487.87L578.82,486.57L576.83,487.87L577.44,485.57L575.59,484.07L577.97,483.94Z"/>
<path d="M562.45,502.80L563.30,505.03L565.68,505.15L563.83,506.65L564.45,508.95L562.45,507.65L560.45,508.95L561.07,506.65L559.21,505.15L561.59,505.03Z"/>
<path d="M538.35,524.07L539.21,526.30L541.59,526.42L539.73,527.92L540.35,530.22L538.35,528.92L536.35,530.22L536.97,527.92L535.12,526.42L537.50,526.30Z"/>
<path d="M534.59,526.89L535.44,529.12L537.82,529.24L535.97,530.74L536.59,533.04L534.59,531.74L532.59,533.04L533.21,530.74L531.35,529.24L533.74,529.12Z"/>
<path d="M530.26,530.09L531.11,532.32L533.49,532.44L531.64,533.94L532.26,536.24L530.26,534.94L528.26,536.24L528.88,533.94L527.03,532.44L529.41,532.32Z"/>
<path d="M513.88,541.39L514.73,543.62L517.12,543.74L515.26,545.24L515.88,547.54L513.88,546.24L511.88,547.54L512.50,545.24L510.65,543.74L513.03,543.62Z"/>
<path d="M506.92,544.40L507.77,546.63L510.15,546.75L508.30,548.25L508.92,550.55L506.92,549.25L504.92,550.55L505.54,548.25L503.68,546.75L506.07,546.63Z"/>
<path d="M529.79,232.81L530.64,235.04L533.02,235.16L531.17,236.66L531.79,238.96L529.79,237.66L527.79,238.96L528.41,236.66L526.55,235.16L528.94,235.04Z"/>
<path d="M537.88,239.40L538.73,241.63L541.12,241.75L539.26,243.25L539.88,245.55L537.88,244.25L535.88,245.55L536.50,243.25L534.65,241.75L537.03,241.63Z"/>
<path d="M550.49,249.19L551.35,251.42L553.73,251.54L551.87,253.04L552.49,255.34L550.49,254.04L548.50,255.34L549.12,253.04L547.26,251.54L549.64,251.42Z"/>
<path d="M561.04,259.92L561.89,262.14L564.27,262.27L562.41,263.77L563.03,266.07L561.04,264.77L559.04,266.07L559.66,263.77L557.80,262.27L560.18,262.14Z"/>
<path d="M569.32,268.39L570.17,270.62L572.55,270.74L570.70,272.24L571.32,274.54L569.32,273.24L567.32,274.54L567.94,272.24L566.08,270.74L568.47,270.62Z"/>
<path d="M576.47,278.93L577.32,281.16L579.70,281.28L577.85,282.78L578.47,285.08L576.47,283.78L574.47,285.08L575.09,282.78L573.24,281.28L575.62,281.16Z"/>
<path d="M586.45,291.92L587.30,294.14L589.68,294.27L587.83,295.77L588.45,298.07L586.45,296.77L584.45,298.07L585.07,295.77L583.21,294.27L585.59,294.14Z"/>
<path d="M591.15,300.95L592.01,303.18L594.39,303.30L592.53,304.80L593.15,307.10L591.15,305.80L589.15,307.10L589.77,304.80L587.92,303.30L590.30,303.18Z"/>
<path d="M593.41,304.72L594.26,306.94L596.65,307.07L594.79,308.57L595.41,310.87L593.41,309.57L591.41,310.87L592.03,308.57L590.18,307.07L592.56,306.94Z"/>
<path d="M596.24,309.80L597.09,312.03L599.47,312.15L597.61,313.65L598.23,315.95L596.24,314.65L594.24,315.95L594.86,313.65L593.00,312.15L595.38,312.03Z"/>
<path d="M597.55,314.13L598.41,316.36L600.79,316.48L598.93,317.98L599.55,320.28L597.55,318.98L595.55,320.28L596.17,317.98L594.32,316.48L596.70,316.36Z"/>
<path d="M599.06,318.84L599.91,321.06L602.29,321.18L600.44,322.68L601.06,324.99L599.06,323.69L597.06,324.99L597.68,322.68L595.83,321.18L598.21,321.06Z"/>
<path d="M602.82,328.25L603.68,330.47L606.06,330.60L604.20,332.10L604.82,334.40L602.82,333.10L600.83,334.40L601.44,332.10L599.59,330.60L601.97,330.47Z"/>
<path d="M606.59,342.36L607.44,344.59L609.82,344.71L607.97,346.21L608.59,348.52L606.59,347.21L604.59,348.52L605.21,346.21L603.35,344.71L605.74,344.59Z"/>
<path d="M610.02,363.04L610.88,365.26L613.26,365.38L611.40,366.88L612.02,369.19L610.02,367.89L608.03,369.19L608.64,366.88L606.79,365.38L609.17,365.26Z"/>
<path d="M610.59,368.68L611.44,370.91L613.82,371.03L611.97,372.53L612.59,374.83L610.59,373.53L608.59,374.83L609.21,372.53L607.35,371.03L609.74,370.91Z"/>
<path d="M610.02,400.68L610.88,402.91L613.26,403.03L611.40,404.53L612.02,406.83L610.02,405.53L608.03,406.83L608.64,404.53L606.79,403.03L609.17,402.91Z"/>
</g>

<!-- centre label + legend -->
<g id="legend">
  <path d="M385.3,365.4 L387.0,369.9 L391.8,370.1 L388.0,373.1 L389.3,377.7 L385.3,375.1 L381.3,377.7 L382.6,373.1 L378.8,370.1 L383.6,369.9 Z" fill="#f39a1c" stroke="#2a1a05" stroke-width="0.9"/>
  <circle cx="385.4" cy="387.5" r="3.25" fill="#e9132e" stroke="#3a0d1a" stroke-width="0.9"/>
  <circle cx="385.1" cy="402.8" r="3.2" fill="#2f6cf6" stroke="#16275a" stroke-width="0.9"/>
  <rect x="384.2" y="414.7" width="2.7" height="9.7" fill="#21d46e"/>
</g>

<!-- text labels (per-word, width-fitted) -->
<g id="labels">
<text y="20.2" font-size="17" fill="#2e5090"><tspan x="110.46" textLength="25.88" lengthAdjust="spacingAndGlyphs">Fig</tspan> <tspan x="139.34" textLength="75.26" lengthAdjust="spacingAndGlyphs">IS200.26</tspan></text>
<text y="84.1" font-size="33" fill="#1f497d"><tspan x="217.99" textLength="63.77" lengthAdjust="spacingAndGlyphs">REP,</tspan> <tspan x="290.07" textLength="80.05" lengthAdjust="spacingAndGlyphs">BIME</tspan> <tspan x="378.22" textLength="178.21" lengthAdjust="spacingAndGlyphs">distribution</tspan> <tspan x="564.26" textLength="29.01" lengthAdjust="spacingAndGlyphs">in</tspan> <tspan x="602.25" textLength="50.78" lengthAdjust="spacingAndGlyphs">the</tspan></text>
<text y="129.6" font-size="33" fill="#1f497d"><tspan x="294.24" textLength="80.97" lengthAdjust="spacingAndGlyphs">E.coli</tspan> <tspan x="383.61" textLength="201.96" lengthAdjust="spacingAndGlyphs">chromosome</tspan></text>
<text y="171.9" font-size="17.7" fill="#000000"><tspan x="631.39" textLength="43.55" lengthAdjust="spacingAndGlyphs">TnpA</tspan></text>
<text y="171.9" font-size="9.3" fill="#000000"><tspan x="677.27" textLength="18.49" lengthAdjust="spacingAndGlyphs">REP</tspan></text>
<text y="339.1" font-size="12.8" font-weight="bold" fill="#000000"><tspan x="349.96" textLength="13.48" lengthAdjust="spacingAndGlyphs">E.</tspan> <tspan x="367.08" textLength="23.06" lengthAdjust="spacingAndGlyphs">coli</tspan> <tspan x="393.62" textLength="24.38" lengthAdjust="spacingAndGlyphs">K12</tspan> <tspan x="422.64" textLength="90.57" lengthAdjust="spacingAndGlyphs">chromosome</tspan></text>
<text y="380.6" font-size="12.6" fill="#1a1a1a"><tspan x="394.45" textLength="48.43" lengthAdjust="spacingAndGlyphs">BIME-1</tspan></text>
<text y="397.0" font-size="12.6" fill="#1a1a1a"><tspan x="394.45" textLength="48.43" lengthAdjust="spacingAndGlyphs">BIME-2</tspan></text>
<text y="412.2" font-size="12.6" fill="#1a1a1a"><tspan x="395.20" textLength="52.73" lengthAdjust="spacingAndGlyphs">Atypical</tspan> <tspan x="451.86" textLength="35.17" lengthAdjust="spacingAndGlyphs">BIME</tspan></text>
<text y="428.5" font-size="12.6" fill="#1a1a1a"><tspan x="394.56" textLength="39.42" lengthAdjust="spacingAndGlyphs">Single</tspan> <tspan x="438.82" textLength="25.32" lengthAdjust="spacingAndGlyphs">REP</tspan> <tspan x="468.08" textLength="28.40" lengthAdjust="spacingAndGlyphs">(PU)</tspan></text>
<text y="630.7" font-size="12.6" fill="#222222"><tspan x="719.87" textLength="56.85" lengthAdjust="spacingAndGlyphs">Bachellier</tspan> <tspan x="779.88" textLength="10.94" lengthAdjust="spacingAndGlyphs">et</tspan> <tspan x="795.08" textLength="13.94" lengthAdjust="spacingAndGlyphs">al,</tspan> <tspan x="811.87" textLength="28.77" lengthAdjust="spacingAndGlyphs">1999</tspan></text>
</g>
</svg>
</body>
</html>
